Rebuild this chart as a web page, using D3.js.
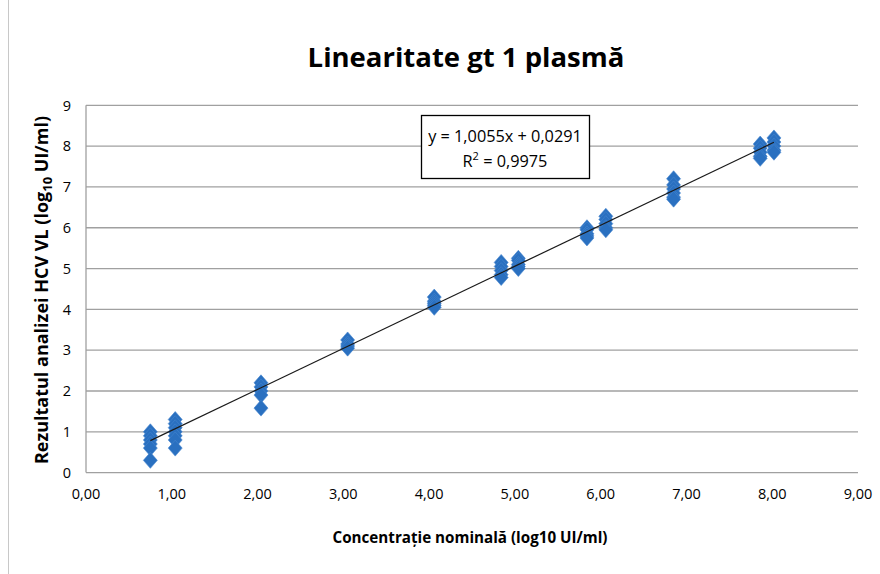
<!DOCTYPE html>
<html>
<head>
<meta charset="utf-8">
<script src="https://cdn.jsdelivr.net/npm/d3@7"></script>
<style>
  html, body { margin: 0; padding: 0; background: #fff; }
  svg { display: block; font-family: "Open Sans", Lato, sans-serif; }
</style>
</head>
<body>
<svg id="chart" width="880" height="574"></svg>
<script>
// ---- data ----
const nominal = [0.75, 1.04, 2.04, 3.05, 4.06, 4.84, 5.04, 5.84, 6.06, 6.85, 7.86, 8.02];
const measured = [
  [1.00, 0.90, 0.80, 0.70, 0.60, 0.30],
  [1.30, 1.20, 1.10, 1.00, 0.90, 0.80, 0.60],
  [2.20, 2.10, 2.00, 1.90, 1.58],
  [3.25, 3.15, 3.10, 3.05],
  [4.30, 4.20, 4.15, 4.10, 4.05],
  [5.15, 5.05, 4.95, 4.85, 4.78],
  [5.25, 5.20, 5.10, 5.05, 5.00],
  [6.00, 5.95, 5.85, 5.80, 5.75],
  [6.28, 6.20, 6.10, 6.00, 5.95],
  [7.20, 7.05, 6.95, 6.85, 6.75, 6.70],
  [8.05, 7.95, 7.85, 7.75, 7.70],
  [8.20, 8.10, 8.00, 7.90, 7.85]
];
const slope = 1.0055, intercept = 0.0291, r2 = "0,9975";
const xTicks = [0, 1, 2, 3, 4, 5, 6, 7, 8, 9];
const yTicks = [0, 1, 2, 3, 4, 5, 6, 7, 8, 9];
const title = "Linearitate gt 1 plasmă";
const xTitle = "Concentrație nominală (log10 UI/ml)";

// ---- layout ----
const svg = d3.select("#chart");
const x = d3.scaleLinear().domain([0, 9]).range([86, 858]);
const y = d3.scaleLinear().domain([0, 9]).range([472.6, 105.3]);
const fmt = d => d.toFixed(2).replace(".", ",");
const gridColor = "#a0a0a0";

// outer chart border (left edge visible)
svg.append("line").attr("x1", 8.5).attr("x2", 8.5).attr("y1", 0).attr("y2", 574)
  .attr("stroke", "#c8c8c8").attr("stroke-width", 1);

// gridlines
svg.append("g").selectAll("line").data(yTicks.filter(d => d > 0)).join("line")
  .attr("x1", x(0)).attr("x2", x(9))
  .attr("y1", d => y(d)).attr("y2", d => y(d))
  .attr("stroke", gridColor).attr("stroke-width", 1.3);

// axes lines
svg.append("line").attr("x1", x(0)).attr("x2", x(0)).attr("y1", y(0)).attr("y2", y(9))
  .attr("stroke", gridColor).attr("stroke-width", 1.3);
svg.append("line").attr("x1", x(0)).attr("x2", x(9)).attr("y1", y(0)).attr("y2", y(0))
  .attr("stroke", gridColor).attr("stroke-width", 1.3);

// tick labels
svg.append("g").selectAll("text").data(yTicks).join("text")
  .attr("x", 71).attr("y", d => y(d)).attr("dy", "0.36em")
  .attr("text-anchor", "end").attr("font-size", 14.5).attr("fill", "#000")
  .text(d => d);
svg.append("g").selectAll("text").data(xTicks).join("text")
  .attr("x", d => x(d)).attr("y", 499)
  .attr("text-anchor", "middle").attr("font-size", 14.5).attr("fill", "#000")
  .text(fmt);

// titles
svg.append("text").attr("x", 466).attr("y", 67).attr("text-anchor", "middle")
  .attr("font-size", 27.5).attr("font-weight", "bold").text(title);
svg.append("text").attr("x", 470).attr("y", 543).attr("text-anchor", "middle")
  .attr("font-size", 15.2).attr("font-weight", "bold").text(xTitle);

const yt = svg.append("text")
  .attr("transform", "translate(48," + 290 + ") rotate(-90)")
  .attr("text-anchor", "middle").attr("font-size", 18).attr("font-weight", "bold");
yt.append("tspan").text("Rezultatul analizei HCV VL (log");
yt.append("tspan").attr("font-size", 13).attr("dy", 4).text("10");
yt.append("tspan").attr("dy", -4).text(" UI/ml)");

// points
const diamond = {
  draw(ctx, size) {
    const w = 7, h = 8;
    ctx.moveTo(0, -h); ctx.lineTo(w, 0); ctx.lineTo(0, h); ctx.lineTo(-w, 0); ctx.closePath();
  }
};
const pts = [];
nominal.forEach((nx, i) => measured[i].forEach(v => pts.push([nx, v])));
svg.append("g").selectAll("path").data(pts).join("path")
  .attr("transform", d => `translate(${x(d[0])},${y(d[1])})`)
  .attr("d", d3.symbol().type(diamond).size(100))
  .attr("fill", "#2a70c0").attr("stroke", "#4585cf").attr("stroke-width", 0.6);

// trend line
const xMin = d3.min(nominal), xMax = d3.max(nominal);
svg.append("line")
  .attr("x1", x(xMin)).attr("y1", y(slope * xMin + intercept))
  .attr("x2", x(xMax)).attr("y2", y(slope * xMax + intercept))
  .attr("stroke", "#1a1a1a").attr("stroke-width", 1.2);

// equation box
svg.append("rect").attr("x", 421.5).attr("y", 115.5).attr("width", 168).attr("height", 63)
  .attr("fill", "#fff").attr("stroke", "#000").attr("stroke-width", 1.3);
svg.append("text").attr("x", 505).attr("y", 142).attr("text-anchor", "middle")
  .attr("font-size", 16.3).text(`y = ${slope.toFixed(4).replace(".", ",")}x + ${intercept.toFixed(4).replace(".", ",")}`);
const rt = svg.append("text").attr("x", 505).attr("y", 167).attr("text-anchor", "middle").attr("font-size", 16.3);
rt.append("tspan").text("R");
rt.append("tspan").attr("font-size", 11).attr("dy", -7).text("2");
rt.append("tspan").attr("dy", 7).text(" = " + r2);
</script>
</body>
</html>
